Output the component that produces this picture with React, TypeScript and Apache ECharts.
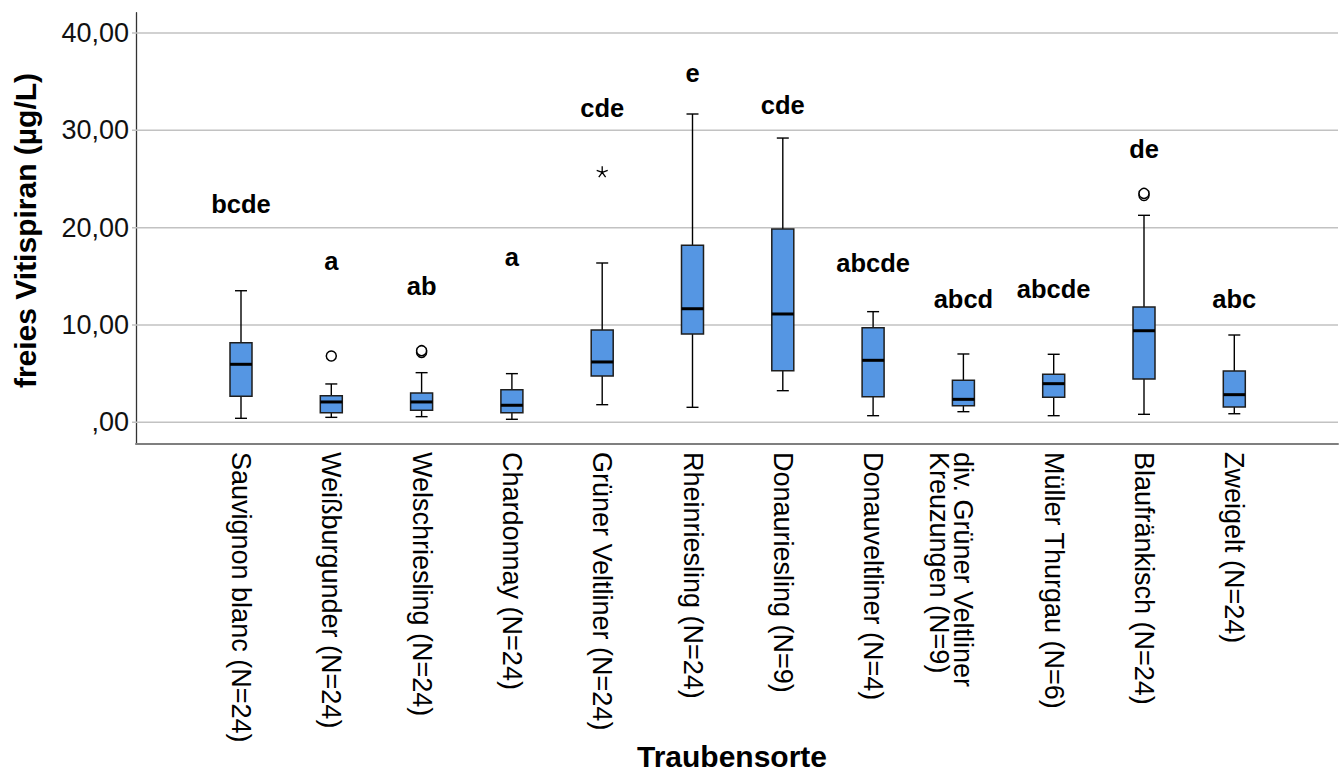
import React, { useEffect, useRef } from 'react';
import * as echarts from 'echarts';

const categories = [
  'Sauvignon blanc (N=24)',
  'Weißburgunder (N=24)',
  'Welschriesling (N=24)',
  'Chardonnay (N=24)',
  'Grüner Veltliner (N=24)',
  'Rheinriesling (N=24)',
  'Donauriesling (N=9)',
  'Donauveltliner (N=4)',
  'div. Grüner Veltliner\nKreuzungen (N=9)',
  'Müller Thurgau (N=6)',
  'Blaufränkisch (N=24)',
  'Zweigelt (N=24)',
];

const whiskerLow = [0.41, 0.51, 0.58, 0.31, 1.81, 1.54, 3.25, 0.68, 1.09, 0.68, 0.82, 0.88];
const q1 = [2.67, 0.99, 1.23, 0.99, 4.76, 9.07, 5.3, 2.63, 1.71, 2.57, 4.45, 1.57];
const median = [5.96, 2.09, 2.09, 1.75, 6.2, 11.67, 11.13, 6.37, 2.36, 3.97, 9.41, 2.84];
const q3 = [8.18, 2.74, 3.01, 3.35, 9.48, 18.19, 19.86, 9.72, 4.32, 4.93, 11.85, 5.27];
const whiskerHigh = [13.52, 3.94, 5.1, 5.0, 16.37, 31.68, 29.21, 11.37, 7.02, 6.99, 21.27, 8.97];

// [category index, value]
const outliers = [
  [1, 6.81],
  [2, 7.18],
  [2, 7.36],
  [10, 23.3],
  [10, 23.52],
];
const extremes = [[4, 25.75]];

const letters = ['bcde', 'a', 'ab', 'a', 'cde', 'e', 'cde', 'abcde', 'abcd', 'abcde', 'de', 'abc'];
const letterY = [22.48, 16.56, 13.99, 16.97, 32.3, 35.92, 32.59, 16.42, 12.62, 13.69, 28.07, 12.68];

const yTicks = [0, 10, 20, 30, 40];
const Y_MIN = -2.23;
const Y_MAX = 42.09;

const FONT = '"Liberation Sans", Arial, sans-serif';

const fmtY = (v: number) => (v === 0 ? ',00' : v.toFixed(2).replace('.', ','));

export default function App() {
  const ref = useRef<HTMLDivElement>(null);

  useEffect(() => {
    if (!ref.current) return;
    const chart = echarts.init(ref.current, undefined, { renderer: 'svg' });

    const boxData = categories.map((_, i) => [i, whiskerLow[i], q1[i], median[i], q3[i], whiskerHigh[i]]);

    const option: any = {
      animation: false,
      backgroundColor: '#ffffff',
      grid: [
        { left: 136, right: 5, top: 12.7, bottom: 329 },
        { left: 195.85, width: 1083.6, top: 12.7, bottom: 329 },
      ],
      xAxis: [
        {
          gridIndex: 0,
          type: 'value',
          min: 0,
          max: 1,
          axisLine: { show: true, onZero: false, lineStyle: { color: '#7f7f7f', width: 2 } },
          axisTick: { show: false },
          axisLabel: { show: false },
          splitLine: { show: false },
        },
        {
          gridIndex: 1,
          type: 'category',
          data: categories,
          boundaryGap: true,
          axisLine: { show: false, onZero: false },
          axisTick: { show: false },
          splitLine: { show: false },
          axisLabel: {
            interval: 0,
            rotate: -90,
            margin: 8,
            fontSize: 27,
            lineHeight: 24,
            fontFamily: FONT,
            color: '#000',
            formatter: (v: string) => (v.indexOf('\n') >= 0 ? '\n' + v : v),
          },
        },
      ],
      yAxis: [
        {
          gridIndex: 0,
          type: 'value',
          min: Y_MIN,
          max: Y_MAX,
          axisLine: { show: true, onZero: false, lineStyle: { color: '#333', width: 1.3 } },
          axisTick: { show: false },
          splitLine: { show: false },
          axisLabel: {
            customValues: yTicks,
            formatter: fmtY,
            fontSize: 27,
            fontFamily: FONT,
            color: '#111',
            margin: 7,
          },
        },
        { gridIndex: 1, type: 'value', min: Y_MIN, max: Y_MAX, show: false },
      ],
      graphic: [
        {
          type: 'text',
          x: 25,
          y: 230.5,
          rotation: Math.PI / 2,
          style: {
            text: 'freies Vitispiran (µg/L)',
            font: 'bold 30px ' + FONT,
            fill: '#000',
            align: 'center',
            verticalAlign: 'middle',
          },
        },
        {
          type: 'text',
          x: 732,
          y: 756.5,
          style: {
            text: 'Traubensorte',
            font: 'bold 30px ' + FONT,
            fill: '#000',
            align: 'center',
            verticalAlign: 'middle',
          },
        },
      ],
      series: [
        {
          type: 'custom',
          xAxisIndex: 0,
          yAxisIndex: 0,
          silent: true,
          z: 1,
          data: yTicks.map((v) => [0, v]),
          renderItem: (params: any, api: any) => {
            const p = api.coord([0, api.value(1)]);
            const cs = params.coordSys;
            return {
              type: 'line',
              shape: { x1: cs.x - 4, y1: p[1], x2: cs.x + cs.width, y2: p[1] },
              style: { stroke: '#c2c2c2', lineWidth: 1.5 },
            };
          },
        },
        {
          type: 'custom',
          xAxisIndex: 1,
          yAxisIndex: 1,
          silent: true,
          z: 3,
          data: boxData,
          renderItem: (params: any, api: any) => {
            const i = api.value(0);
            const x = api.coord([i, api.value(1)])[0];
            const yLo = api.coord([i, api.value(1)])[1];
            const yQ1 = api.coord([i, api.value(2)])[1];
            const yMed = api.coord([i, api.value(3)])[1];
            const yQ3 = api.coord([i, api.value(4)])[1];
            const yHi = api.coord([i, api.value(5)])[1];
            const bw = 22;
            const cw = 12;
            const lineStyle = { stroke: '#000', lineWidth: 1.4 };
            return {
              type: 'group',
              children: [
                { type: 'line', shape: { x1: x, y1: yHi, x2: x, y2: yQ3 }, style: lineStyle },
                { type: 'line', shape: { x1: x, y1: yQ1, x2: x, y2: yLo }, style: lineStyle },
                { type: 'line', shape: { x1: x - cw / 2, y1: yHi, x2: x + cw / 2, y2: yHi }, style: lineStyle },
                { type: 'line', shape: { x1: x - cw / 2, y1: yLo, x2: x + cw / 2, y2: yLo }, style: lineStyle },
                {
                  type: 'rect',
                  shape: { x: x - bw / 2, y: yQ3, width: bw, height: yQ1 - yQ3 },
                  style: { fill: '#5596e3', stroke: '#1e1e1e', lineWidth: 1.5 },
                },
                {
                  type: 'line',
                  shape: { x1: x - bw / 2, y1: yMed, x2: x + bw / 2, y2: yMed },
                  style: { stroke: '#000', lineWidth: 3 },
                },
              ],
            };
          },
        },
        {
          type: 'scatter',
          xAxisIndex: 1,
          yAxisIndex: 1,
          silent: true,
          z: 4,
          data: outliers,
          symbol: 'circle',
          symbolSize: 10,
          itemStyle: { color: '#fff', borderColor: '#000', borderWidth: 1.5, opacity: 1 },
        },
        {
          type: 'scatter',
          xAxisIndex: 1,
          yAxisIndex: 1,
          silent: true,
          z: 4,
          data: extremes,
          symbol:
            'path://M10,10L10,0M10,10L19.5,6.9M10,10L15.9,18.1M10,10L4.1,18.1M10,10L0.5,6.9',
          symbolSize: 11,
          itemStyle: { color: 'none', borderColor: '#000', borderWidth: 1.3, opacity: 1 },
        },
        {
          type: 'custom',
          xAxisIndex: 1,
          yAxisIndex: 1,
          silent: true,
          z: 5,
          data: letters.map((_, i) => [i, letterY[i]]),
          renderItem: (params: any, api: any) => {
            const p = api.coord([api.value(0), api.value(1)]);
            return {
              type: 'text',
              x: p[0],
              y: p[1],
              style: {
                text: letters[params.dataIndex],
                font: 'bold 25.5px ' + FONT,
                fill: '#000',
                align: 'center',
                verticalAlign: 'middle',
              },
            };
          },
        },
      ],
    };

    chart.setOption(option);
    return () => chart.dispose();
  }, []);

  return (
    <div
      ref={ref}
      style={{ position: 'absolute', left: 0, top: 0, width: 1343, height: 773, background: '#fff' }}
    />
  );
}
